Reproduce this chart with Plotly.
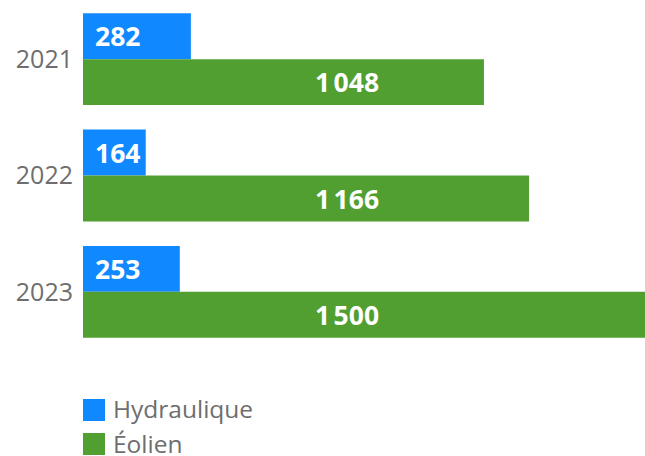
import plotly.graph_objects as go

years = ["2021", "2022", "2023"]
hydraulique = [282, 164, 253]
eolien = [1048, 1166, 1500]
series_names = ["Hydraulique", "Éolien"]
colors = ["#1088FF", "#509F30"]

W, H = 645, 456
L, R, T, B = 83, 0, 1, 106
plot_h = H - T - B
plot_w = W - L - R

def fmt(v):
    return f"{v:,}".replace(",", "\u202f")

def py(px):
    return (H - B - px) / plot_h

def pxx(px):
    return (px - L) / plot_w

fig = go.Figure()
fig.add_trace(go.Bar(y=years, x=hydraulique, orientation="h", name=series_names[0],
                     marker=dict(color=colors[0], line=dict(width=0)), showlegend=False,
                     hoverinfo="skip"))
fig.add_trace(go.Bar(y=years, x=eolien, orientation="h", name=series_names[1],
                     marker=dict(color=colors[1], line=dict(width=0)), showlegend=False,
                     hoverinfo="skip"))

annots = []
label_font = dict(family="Open Sans", size=26.5, color="white")
for i, (hv, ev) in enumerate(zip(hydraulique, eolien)):
    annots.append(dict(xref="paper", yref="y", x=pxx(93), y=i, yshift=23,
                       text="<b>" + fmt(hv) + "</b>", showarrow=False,
                       xanchor="left", yanchor="middle", font=label_font))
    annots.append(dict(xref="paper", yref="y", x=pxx(381), y=i, yshift=-23,
                       text="<b>" + fmt(ev) + "</b>", showarrow=False,
                       xanchor="right", yanchor="middle", font=label_font))

# manual legend
shapes = []
for i, (nm, c) in enumerate(zip(series_names, colors)):
    top = 399 + 34 * i
    shapes.append(dict(type="rect", xref="paper", yref="paper",
                       x0=pxx(83), x1=pxx(105), y0=py(top + 22), y1=py(top),
                       fillcolor=c, line=dict(width=0)))
    annots.append(dict(xref="paper", yref="paper", x=pxx(111), y=py(top + 10),
                       text=nm, showarrow=False, xanchor="left", yanchor="middle",
                       font=dict(family="Open Sans", size=24.5, color="#6E6E6E")))

fig.update_layout(
    width=W, height=H,
    margin=dict(l=L, r=R, t=T, b=B),
    barmode="group", bargap=0.21, bargroupgap=0,
    plot_bgcolor="white", paper_bgcolor="white",
    xaxis=dict(visible=False, range=[0, 1469]),
    yaxis=dict(type="category", range=[len(years) - 0.5, -0.5], showgrid=False,
               zeroline=False, showline=False, ticks="outside", ticklen=4,
               tickcolor="rgba(0,0,0,0)",
               tickfont=dict(family="Open Sans", size=25, color="#6E6E6E")),
    annotations=annots, shapes=shapes,
)

fig.write_html("out.html", config={"displayModeBar": False},
               post_script="document.body.style.margin='0';")
